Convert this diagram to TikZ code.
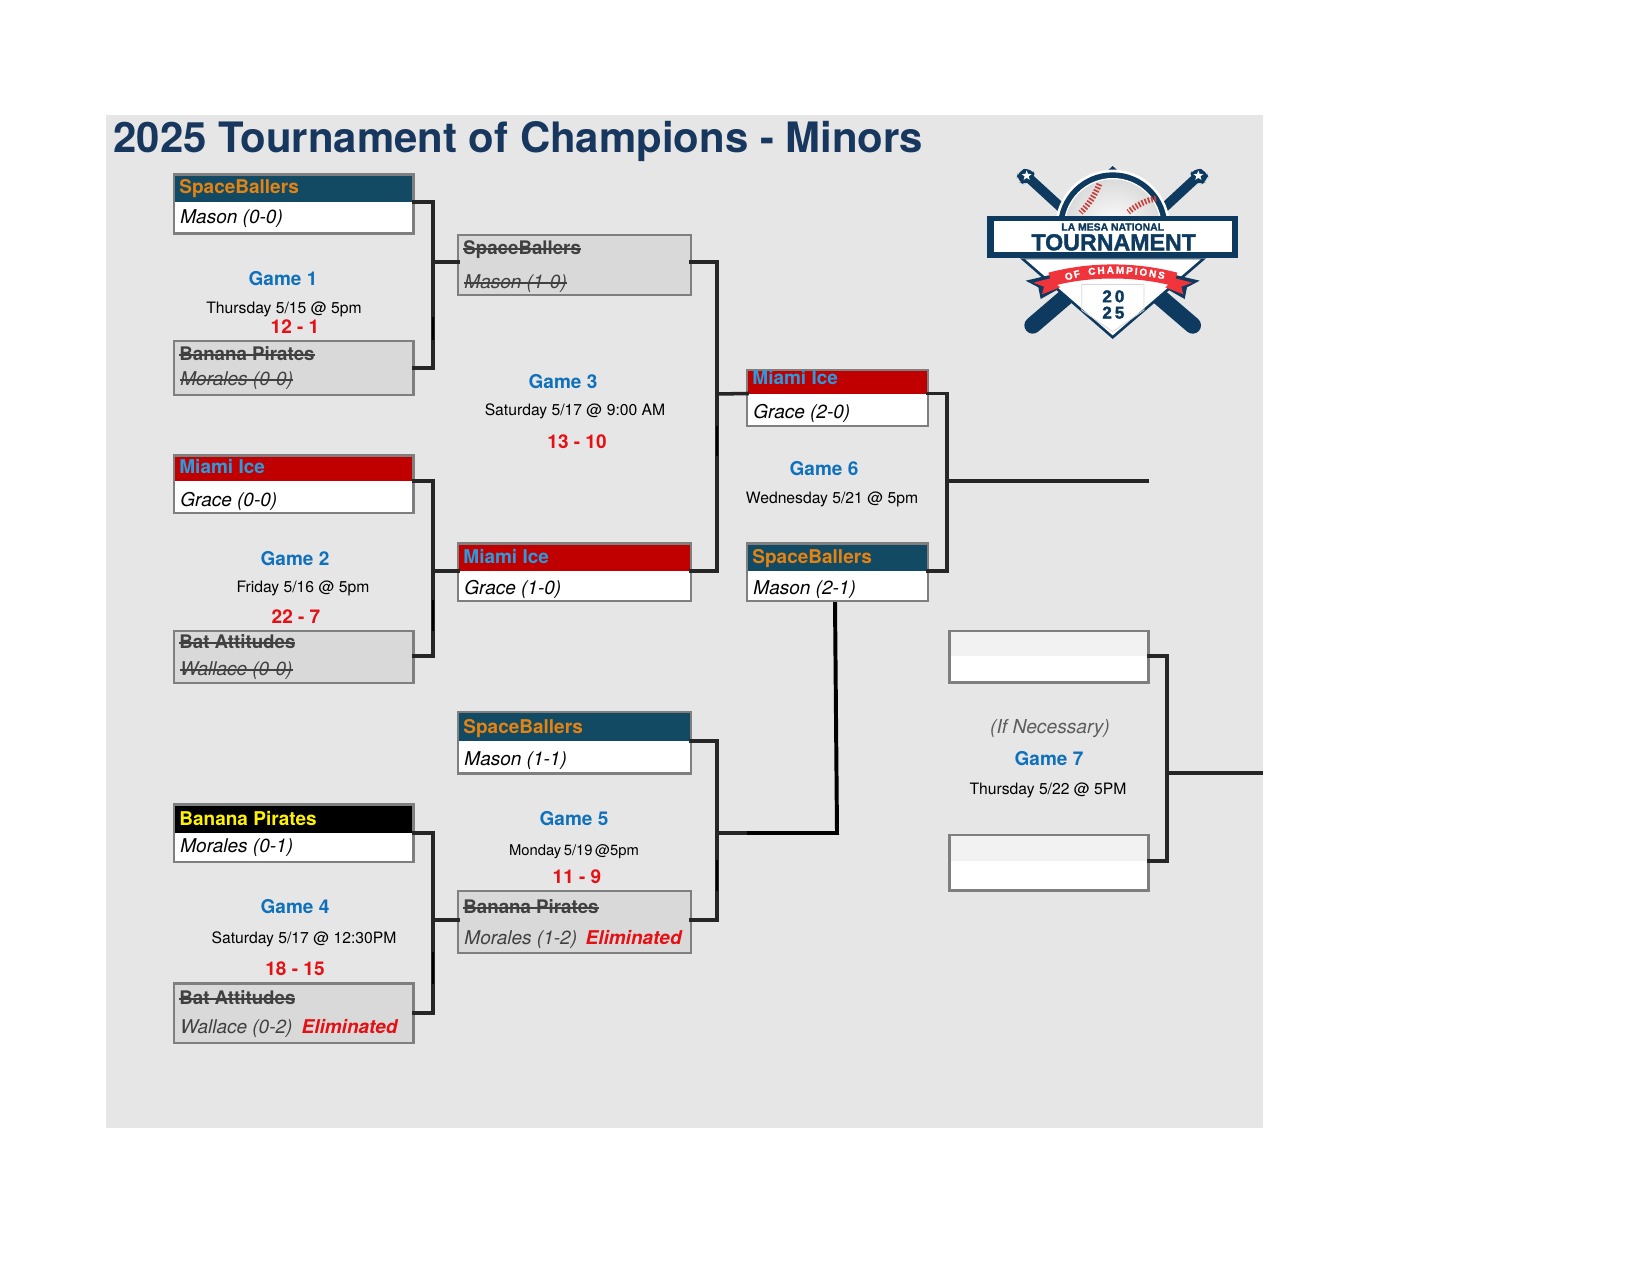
\documentclass[tikz,border=0pt]{standalone}
\usepackage{fontspec}
\setmainfont{TeX Gyre Heros}
\newfontfamily\logofont{Liberation Sans}[BoldFeatures={FakeBold=1.6}]
\newfontfamily\logowide{Liberation Sans}[BoldFeatures={FakeBold=2.2,LetterSpace=18}]
\usetikzlibrary{decorations.text,shapes.geometric}
\definecolor{bgc}{HTML}{E6E6E6}
\definecolor{titlec}{HTML}{17375E}
\definecolor{teal}{HTML}{134A63}
\definecolor{orangec}{HTML}{E48312}
\definecolor{icered}{HTML}{C00000}
\definecolor{iceblue}{HTML}{2A9BDD}
\definecolor{gameb}{HTML}{0F70BC}
\definecolor{scorer}{HTML}{E60F14}
\definecolor{lostbox}{HTML}{D9D9D9}
\definecolor{losttext}{HTML}{404040}
\definecolor{emptyc}{HTML}{F2F2F2}
\definecolor{bordc}{HTML}{7F7F7F}
\definecolor{connc}{HTML}{262626}
\definecolor{navy}{HTML}{0F3A60}
\definecolor{ribred}{HTML}{F0343C}
\definecolor{stitch}{HTML}{C8403C}
\newcommand\fsz[1]{\fontsize{\fpeval{#1*0.48}pt}{\fpeval{#1*0.58}pt}\selectfont}
\newcommand\strk[1]{{\sbox0{#1}\rlap{\usebox0}\rule[.27em]{\wd0}{.08em}}}
% name,x1,y1,x2,y2,split,connector y,top fill,bottom fill
\newcommand\teambox[9]{%
  \node[boxfill,fill=#9,minimum width=\fpeval{(#4-#2)*0.48}pt,minimum height=\fpeval{(#5-#3)*0.48}pt] (#1-bg) at ({(#2+#4)/2},{(#3+#5)/2}) {};
  \node[boxfill,fill=#8,minimum width=\fpeval{(#4-#2)*0.48}pt,minimum height=\fpeval{(#6-#3)*0.48}pt] (#1-top) at ({(#2+#4)/2},{(#3+#6)/2}) {};
  \node[boxfill,draw=bordc,line width=1.15pt,minimum width=\fpeval{(#4-#2)*0.48}pt,minimum height=\fpeval{(#5-#3)*0.48}pt] (#1) at ({(#2+#4)/2},{(#3+#5)/2}) {};
  \coordinate (#1-in) at (#2,#7);
  \coordinate (#1-out) at (#4,#7);
}
\tikzset{
  boxfill/.style={rectangle,inner sep=0pt,outer sep=0pt},
  conn/.style={draw=connc,line width=1.7pt,line cap=rect,line join=miter},
  connb/.style={draw=black,line width=1.9pt,line join=miter},
  connk/.style={draw=black,line width=1.2pt},
  txt/.style={inner sep=0pt,text height=.72em,text depth=.2em,yshift=-0.7pt},
  team/.style={txt,anchor=west,font=\fsz{19}\bfseries},
  mgr/.style={txt,anchor=west,font=\fsz{19}\itshape,text=black},
  lostteam/.style={team,font=\fsz{18.7}\bfseries,text=losttext},
  lostmgr/.style={mgr,text=losttext},
  gamet/.style={txt,font=\fsz{19}\bfseries,text=gameb},
  datet/.style={txt,font=\fsz{15.7},text=black},
  score/.style={txt,font=\fsz{19}\bfseries,text=scorer},
  elim/.style={txt,anchor=east,font=\fsz{19}\bfseries\itshape,text=scorer},
}
\begin{document}
\begin{tikzpicture}[x=0.48pt,y=-0.48pt]
\useasboundingbox (0,0) rectangle (1650,1275);
\fill[white] (0,0) rectangle (1650,1275);
\fill[bgc] (106,115) rectangle (1262.5,1127.5);
\node[txt,anchor=west,font=\fsz{41.9}\bfseries,text=titlec] (title) at (113,146) {2025 Tournament of Champions - Minors};

% boxes
\teambox{a1}{174}{174.5}{413.5}{233.5}{202}{202}{teal}{white}
\teambox{a2}{174}{341}{413.5}{395}{395}{368}{lostbox}{lostbox}
\teambox{b1}{174}{455.5}{413.5}{513}{481}{481}{icered}{white}
\teambox{b2}{174}{631}{413.5}{683}{683}{656}{lostbox}{lostbox}
\teambox{c1}{458}{235}{691}{295}{295}{262}{lostbox}{lostbox}
\teambox{c2}{458}{543.5}{691}{601}{571}{571}{icered}{white}
\teambox{d1}{747}{370}{928}{426}{393.5}{393.5}{icered}{white}
\teambox{d2}{747}{543.5}{928}{601}{571}{571}{teal}{white}
\teambox{e1}{458}{712}{691}{773.5}{741}{741}{teal}{white}
\teambox{e2}{458}{891}{691}{953}{953}{920}{lostbox}{lostbox}
\teambox{f1}{174}{804.5}{413.5}{862}{833}{833}{black}{white}
\teambox{f2}{174}{983.5}{413.5}{1043}{1043}{1013}{lostbox}{lostbox}
\teambox{g1}{949.5}{631}{1148.5}{682.5}{656}{656}{emptyc}{white}
\teambox{g2}{949.5}{835}{1148.5}{890.5}{861}{861}{emptyc}{white}

% connectors
\coordinate (j1) at (433,262);
\coordinate (j2) at (433,571);
\coordinate (j3) at (717,394);
\coordinate (j4) at (433,920);
\coordinate (j5) at (717,833);
\coordinate (j5m) at (747,833);
\coordinate (j5b) at (837,833);
\coordinate (j5t) at (835,602);
\coordinate (j6) at (947,481);
\coordinate (j6e) at (1147,481);
\coordinate (j7) at (1167,773);
\coordinate (j7e) at (1261,773);
\draw[conn] (a1-out) -| (j1) |- (a2-out);
\draw[conn] (j1) -- (c1-in);
\draw[conn] (b1-out) -| (j2) |- (b2-out);
\draw[conn] (j2) -- (c2-in);
\draw[conn] (c1-out) -| (j3) |- (c2-out);
\draw[conn] (j3) -- (d1-in);
\draw[conn] (f1-out) -| (j4) |- (f2-out);
\draw[conn] (j4) -- (e2-in);
\draw[conn] (e1-out) -| (j5) |- (e2-out);
\draw[conn] (j5) -- (j5m);
\draw[connb] (j5m) -- (j5b) -- (j5t);
\draw[conn] (d1-out) -| (j6) |- (d2-out);
\draw[conn] (j6) -- (j6e);
\draw[conn] (g1-out) -| (j7) |- (g2-out);
\draw[conn] (j7) -- (j7e);
% darker stretches of the vertical rules
\draw[connk] (j1 |- 0,317) -- (j1 |- 0,340);
\draw[connk] (j2 |- 0,600) -- (j2 |- 0,631);
\draw[connk] (j4 |- 0,952) -- (j4 |- 0,984);
\draw[connk] (j3 |- 0,426) -- (j3 |- 0,456);
\draw[connk] (j5 |- 0,860) -- (j5 |- 0,891);

% game 1
\node[team,text=orangec] (ta1) at (179,187) {SpaceBallers};
\node[mgr] (ma1) at (180,217) {Mason (0-0)};
\node[gamet] (g1t) at (283,279) {Game 1};
\node[datet] (g1d) at (284,307) {Thursday 5/15 @ 5pm};
\node[score] (g1s) at (295,327) {12 - 1};
\node[lostteam] (ta2) at (179,354) {\strk{Banana Pirates}};
\node[lostmgr] (ma2) at (180,379) {\strk{Morales (0-0)}};
% game 2
\node[team,text=iceblue] (tb1) at (179,467) {Miami Ice};
\node[mgr] (mb1) at (180,500) {Grace (0-0)};
\node[gamet] (g2t) at (295,559) {Game 2};
\node[datet] (g2d) at (303,586) {Friday 5/16 @ 5pm};
\node[score] (g2s) at (296,617) {22 - 7};
\node[lostteam] (tb2) at (179,642) {\strk{Bat Attitudes}};
\node[lostmgr] (mb2) at (180,669) {\strk{Wallace (0-0)}};
% game 3
\node[lostteam] (tc1) at (463,248) {\strk{SpaceBallers}};
\node[lostmgr] (mc1) at (464,282) {\strk{Mason (1-0)}};
\node[gamet] (g3t) at (563,382) {Game 3};
\node[datet] (g3d) at (575,409) {Saturday 5/17 @ 9:00 AM};
\node[score] (g3s) at (577,442) {13 - 10};
\node[team,text=iceblue] (tc2) at (463,557) {Miami Ice};
\node[mgr] (mc2) at (464,588) {Grace (1-0)};
% game 6
\node[team,text=iceblue] (td1) at (752,378) {Miami Ice};
\node[mgr] (md1) at (753,412) {Grace (2-0)};
\node[gamet] (g6t) at (824,469) {Game 6};
\node[datet] (g6d) at (832,497) {Wednesday 5/21 @ 5pm};
\node[team,text=orangec] (td2) at (752,557) {SpaceBallers};
\node[mgr] (md2) at (753,588) {Mason (2-1)};
% game 5
\node[team,text=orangec] (te1) at (463,727) {SpaceBallers};
\node[mgr] (me1) at (464,759) {Mason (1-1)};
\node[gamet] (g5t) at (574,819) {Game 5};
\node[datet,font=\fsz{14.8}] (g5d) at (574,849) {Monday\,5/19\,@5pm};
\node[score] (g5s) at (577,877) {11 - 9};
\node[lostteam] (te2) at (463,907) {\strk{Banana Pirates}};
\node[lostmgr] (me2) at (464,938) {Morales (1-2)};
\node[elim] (ee2) at (682,938) {Eliminated};
% game 4
\node[team,text=yellow] (tf1) at (179,819) {Banana Pirates};
\node[mgr] (mf1) at (180,846) {Morales (0-1)};
\node[gamet] (g4t) at (295,907) {Game 4};
\node[datet] (g4d) at (304,937) {Saturday 5/17 @ 12:30PM};
\node[score] (g4s) at (295,969) {18 - 15};
\node[lostteam] (tf2) at (179,998) {\strk{Bat Attitudes}};
\node[lostmgr] (mf2) at (180,1027) {Wallace (0-2)};
\node[elim] (ef2) at (398,1027) {Eliminated};
% game 7
\node[txt,font=\fsz{19.2}\itshape,text=losttext!85] (g7n) at (1050,727) {(If Necessary)};
\node[gamet] (g7t) at (1049,759) {Game 7};
\node[datet] (g7d) at (1048,788) {Thursday 5/22 @ 5PM};

% logo
\begin{scope}[shift={(960,150)},x=0.16pt,y=-0.16pt]
  \draw[navy,line width=4.6pt,line cap=round] (200,78) -- (320,188);
  \draw[navy,line width=4.6pt,line cap=round] (715,78) -- (596,188);
  \fill[navy,rounded corners=4pt] (172,62) -- (214,52) -- (230,85) -- (200,106) -- (170,94) -- cycle;
  \fill[navy,rounded corners=4pt] (743,62) -- (701,52) -- (685,85) -- (715,106) -- (745,94) -- cycle;
  \node[star,star points=5,star point ratio=2.4,fill=white,inner sep=0pt,minimum size=5pt] (st1) at (200,77) {};
  \node[star,star points=5,star point ratio=2.4,fill=white,inner sep=0pt,minimum size=5pt] (st2) at (715,77) {};
  \draw[navy,line width=8pt,line cap=round] (218,526) -- (400,370);
  \draw[navy,line width=8pt,line cap=round] (698,526) -- (516,370);
  \fill[navy] (458,48) -- (486,74) -- (430,74) -- cycle;
  \begin{scope}
    \clip (280,20) rectangle (640,200);
    \fill[white] (458,231) circle[radius=172];
    \fill[navy] (458,231) circle[radius=164];
    \fill[white] (458,231) circle[radius=147];
    \shade[inner color=white,outer color=black!14] (458,231) circle[radius=143];
    \draw[stitch,line width=2.8pt,dash pattern=on .8pt off .8pt] (418,102) .. controls (405,135) and (385,165) .. (362,188);
    \draw[stitch,line width=2.8pt,dash pattern=on .8pt off .8pt] (588,146) .. controls (560,150) and (530,165) .. (505,186);
  \end{scope}
  \fill[navy] (82,197) -- (835,197) -- (835,325) -- (82,325) -- cycle;
  \fill[white] (102,213) rectangle (816,307);
  \fill[navy] (180,325) -- (738,325) -- (458,567) -- cycle;
  \fill[white] (196,328) -- (722,328) -- (458,556) -- cycle;
  \draw[black!15,line width=.4pt] (365,403) -- (552,403) -- (552,480) -- (458,545) -- (365,480) -- cycle;
  \fill[navy] (197,392) -- (270,375) -- (290,420) -- (242,447) -- (235,412) -- cycle;
  \fill[navy] (719,392) -- (646,375) -- (626,420) -- (674,447) -- (681,412) -- cycle;
  \fill[ribred] (270,385) -- (220,398) -- (252,410) -- (246,433) -- (300,412) -- cycle;
  \fill[ribred] (646,385) -- (696,398) -- (664,410) -- (670,433) -- (616,412) -- cycle;
  \fill[ribred] (265,368) .. controls (390,335) and (526,335) .. (652,368) -- (640,408) .. controls (526,378) and (390,378) .. (278,408) -- cycle;
  \path[decorate,decoration={text along path,text align=fit to path,text={|\logofont\bfseries\fontsize{4.8pt}{5pt}\selectfont\color{white}|OF}}] (318,392) .. controls (330,388) and (345,384) .. (362,380);
  \path[decorate,decoration={text along path,text align=fit to path,text={|\logofont\bfseries\fontsize{4.8pt}{5pt}\selectfont\color{white}|CHAMPIONS}}] (386,376) .. controls (450,366) and (530,370) .. (612,388);
  \node[inner sep=0pt,font=\logofont\fsz{10.4}\bfseries,text=navy] (lm) at (458,231) {LA MESA NATIONAL};
  \node[inner sep=0pt,font=\logofont\fsz{23.2}\bfseries,text=navy] (lt) at (461,277) {TOURNAMENT};
  \node[inner sep=0pt,font=\logowide\fsz{17}\bfseries,text=navy] (l20) at (460,439) {20};
  \node[inner sep=0pt,font=\logowide\fsz{17}\bfseries,text=navy] (l25) at (460,488) {25};
\end{scope}
\end{tikzpicture}
\end{document}
